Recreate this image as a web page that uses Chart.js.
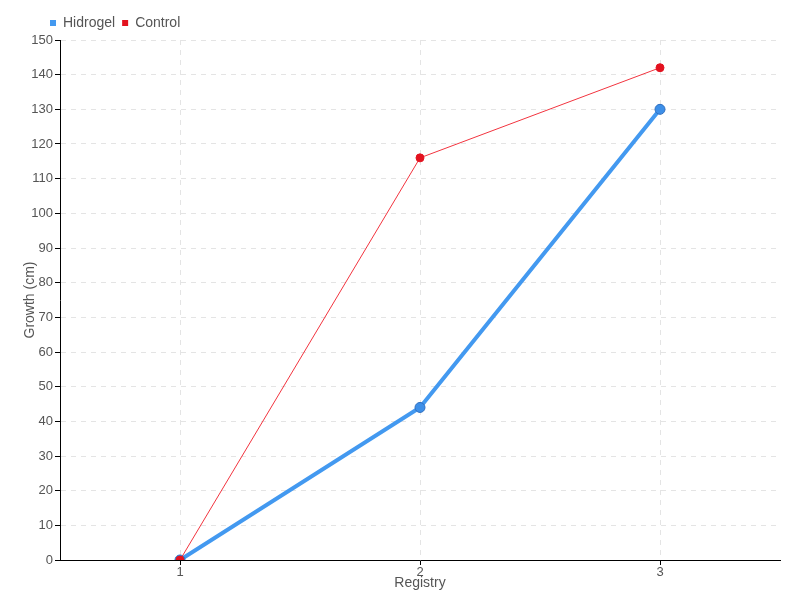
<!DOCTYPE html>
<html>
<head>
<meta charset="utf-8">
<script src="https://cdn.jsdelivr.net/npm/chart.js@4"></script>
<style>
  html, body { margin: 0; padding: 0; background: #fff; }
  #wrap { width: 800px; height: 600px; }
</style>
</head>
<body>
<div id="wrap"><canvas id="chart"></canvas></div>
<script>
const registries = ['1', '2', '3'];
const hidrogel = [0, 44, 130];
const control = [0, 116, 142];

Chart.defaults.font.family = "'Liberation Sans Narrow', 'Liberation Sans', sans-serif";
Chart.defaults.font.size = 13;
Chart.defaults.color = '#555';

// push the legend right so it sits above the y axis, as in the picture
const legendShift = {
  id: 'legendShift',
  afterLayout(chart) {
    chart.legend.left += 43;
  },
};

const ctx = document.getElementById('chart');

const chart = new Chart(ctx, {
  type: 'line',
  data: {
    labels: registries,
    datasets: [
      {
        label: 'Hidrogel',
        data: hidrogel,
        borderColor: '#4399f0',
        backgroundColor: '#4399f0',
        borderWidth: 4,
        pointRadius: 5,
        pointBorderColor: '#2f6fc0',
        pointBorderWidth: 1,
        pointBackgroundColor: '#3d8fe8',
        order: 1,
      },
      {
        label: 'Control',
        data: control,
        borderColor: '#f2343f',
        backgroundColor: '#e3121f',
        borderWidth: 1,
        pointRadius: 4,
        pointBorderColor: '#e3121f',
        pointBackgroundColor: '#e3121f',
        order: 0,
      },
    ],
  },
  options: {
    responsive: true,
    maintainAspectRatio: false,
    animation: false,
    layout: { padding: { left: 0, right: 20, top: 9, bottom: 0 } },
    scales: {
      x: {
        type: 'category',
        offset: true,
        title: { display: true, text: 'Registry', padding: { top: 0, bottom: 8 }, font: { size: 14 } },
        grid: {
          offset: false,
          color: '#e4e4e4',
          tickColor: '#000',
          tickLength: 5,
          tickBorderDash: [],
        },
        border: { color: '#000', width: 1, dash: [5, 5] },
        ticks: { padding: 0 },
        afterFit: (scale) => { scale.height = 40; },
      },
      y: {
        min: 0,
        max: 150,
        ticks: { stepSize: 10, padding: 2 },
        title: { display: true, text: 'Growth (cm)', padding: { top: 22, bottom: 0 }, font: { size: 14 } },
        grid: {
          color: '#e4e4e4',
          tickColor: '#000',
          tickLength: 5,
          tickBorderDash: [],
        },
        border: { color: '#000', width: 1, dash: [5, 5] },
        afterFit: (scale) => { scale.width = 60; },
      },
    },
    plugins: {
      legend: {
        align: 'start',
        labels: {
          boxWidth: 6,
          boxHeight: 6,
          padding: 7,
          font: { size: 14 },
          sort: (a, b) => a.datasetIndex - b.datasetIndex,
          generateLabels: (c) => Chart.defaults.plugins.legend.labels.generateLabels(c)
            .map((item) => ({ ...item, lineWidth: 0 })),
        },
      },
      tooltip: { enabled: false },
    },
  },
  plugins: [legendShift],
});
</script>
</body>
</html>
